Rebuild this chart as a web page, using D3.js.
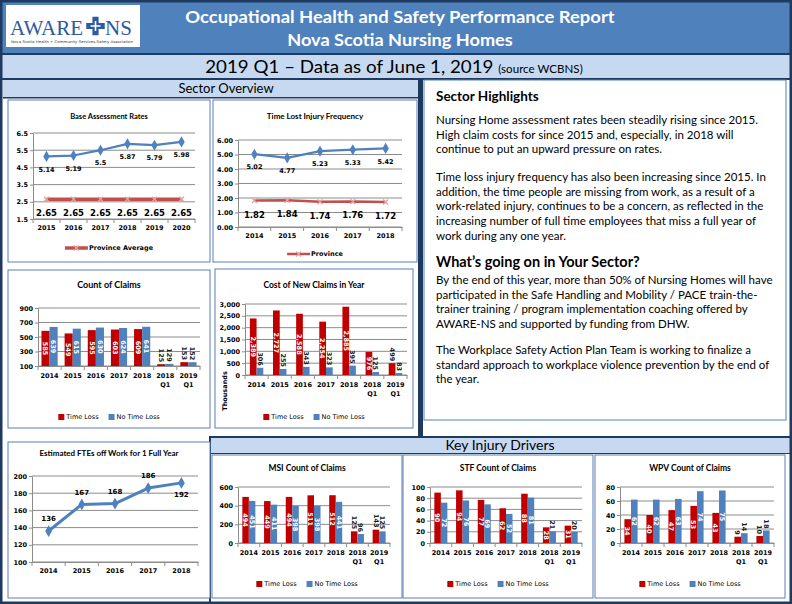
<!DOCTYPE html>
<html>
<head>
<meta charset="utf-8">
<title>Occupational Health and Safety Performance Report</title>
<script src="https://d3js.org/d3.v7.min.js"></script>
<style>
  body { margin: 0; padding: 0; background: #fff; overflow: hidden; }
  svg { display: block; }
  .tick-label { font-family: "DejaVu Sans", sans-serif; font-size: 6.5px; font-weight: bold; fill: #000; }
  .chart-title { font-family: Lato, sans-serif; font-weight: bold; fill: #000; }
  .legend-text { font-family: "DejaVu Sans", sans-serif; font-size: 6.5px; fill: #000; }
  .bar-label { font-family: "DejaVu Sans", sans-serif; font-size: 6.5px; font-weight: bold; }
  .body-text { font-family: Lato, sans-serif; font-size: 12px; fill: #000; }
  .head-text { font-family: Lato, sans-serif; font-weight: bold; fill: #000; }
</style>
</head>
<body>
<svg id="page" width="792" height="604"></svg>
<script>
// ---- data ----
const baseYears = ['2015', '2016', '2017', '2018', '2019', '2020'];
const baseRates = [5.14, 5.19, 5.5, 5.87, 5.79, 5.98];
const baseProvince = [2.65, 2.65, 2.65, 2.65, 2.65, 2.65];
const baseTicks = [1.5, 2.5, 3.5, 4.5, 5.5, 6.5];

const freqYears = ['2014', '2015', '2016', '2017', '2018'];
const freqRates = [5.02, 4.77, 5.23, 5.33, 5.42];
const freqProvince = [1.82, 1.84, 1.74, 1.76, 1.72];
const freqTicks = [0, 1, 2, 3, 4, 5, 6];

const fteYears = ['2014', '2015', '2016', '2017', '2018'];
const fteValues = [136, 167, 168, 186, 192];
const fteTicks = [100, 120, 140, 160, 180, 200];

const periods = ['2014', '2015', '2016', '2017', '2018', '2018 Q1', '2019 Q1'];
const claimsTimeLoss = [585, 549, 595, 603, 609, 125, 153];
const claimsNoTimeLoss = [639, 615, 630, 624, 641, 129, 152];
const claimsTicks = [100, 300, 500, 700, 900];

const costTimeLoss = [2389, 2727, 2588, 2254, 2885, 976, 499];
const costNoTimeLoss = [306, 255, 343, 323, 395, 125, 83];
const costTicks = [0, 500, 1000, 1500, 2000, 2500, 3000];

const msiTimeLoss = [494, 449, 494, 511, 512, 125, 143];
const msiNoTimeLoss = [451, 411, 398, 398, 441, 96, 125];
const msiTicks = [0, 200, 400, 600];

const stfTimeLoss = [90, 94, 77, 62, 88, 28, 31];
const stfNoTimeLoss = [72, 76, 69, 52, 81, 21, 20];
const stfTicks = [0, 20, 40, 60, 80, 100];

const wpvTimeLoss = [34, 40, 47, 53, 43, 9, 10];
const wpvNoTimeLoss = [62, 62, 63, 74, 75, 14, 18];
const wpvTicks = [0, 20, 40, 60, 80];

const DARK = '#1f3a5f';
const BLUE = '#4f81bd';
const LIGHT = '#c6d9f1';
const RED = '#c00000';
const LINE_RED = '#c0504d';
const GRID = '#8c8c8c';

const svg = d3.select('#page');

function box(x, y, w, h, fill, stroke) {
    return svg.append('rect')
        .attr('x', x).attr('y', y).attr('width', w).attr('height', h)
        .attr('fill', fill)
        .attr('stroke', stroke || 'none');
}

// squeeze/stretch a text group horizontally so it spans a given width
function fitWidth(sel, width, originX) {
    const w = sel.node().getBBox().width;
    const k = width / w;
    sel.attr('transform', `translate(${originX},0) scale(${k},1) translate(${-originX},0)`);
}

// ---- page frame ----
box(0, 0, 792, 604, '#fff');
box(0, 0, 792, 53, BLUE);
box(0, 53, 792, 2, DARK);
box(0, 55, 792, 23, LIGHT);
box(0, 78, 792, 2, DARK);
box(3, 80, 415, 17, LIGHT);
box(3, 97, 415, 1.5, DARK);
box(418, 78, 5, 360, DARK);
box(209, 436, 583, 2, DARK);
box(209, 436, 2, 168, DARK);
box(211, 438, 579, 15, LIGHT);
box(211, 453, 579, 1, DARK);
svg.append('rect').attr('x', 1).attr('y', 1).attr('width', 790).attr('height', 602)
    .attr('fill', 'none').attr('stroke', DARK).attr('stroke-width', 3);

// ---- logo ----
box(6, 5, 134, 42, '#fff');
svg.append('text').attr('x', 10).attr('y', 35)
    .style('font-family', '"Liberation Serif", serif').style('font-size', '21px')
    .attr('fill', '#2d5aa0').text('AWARE');
const cross = svg.append('g').attr('transform', 'translate(95.5,26)');
cross.append('path').attr('d', d3.symbol(d3.symbolCross, 190)()).attr('fill', '#2d5aa0');
cross.append('path').attr('d', 'M-5,0H5M0,-5V5').attr('stroke', '#fff').attr('stroke-width', 1.6);
svg.append('text').attr('x', 105).attr('y', 35)
    .style('font-family', '"Liberation Serif", serif').style('font-size', '21px')
    .attr('fill', '#2d5aa0').text('NS');
svg.append('text').attr('x', 11).attr('y', 43)
    .attr('textLength', 122).attr('lengthAdjust', 'spacingAndGlyphs')
    .style('font-family', '"DejaVu Sans", sans-serif').style('font-size', '3.6px')
    .attr('fill', '#333').text('Nova Scotia Health + Community Services Safety Association');

// ---- titles ----
const t1 = svg.append('text').attr('x', 400).attr('y', 23).attr('text-anchor', 'middle')
    .attr('class', 'head-text').style('font-size', '17.5px').attr('fill', '#fff')
    .text('Occupational Health and Safety Performance Report');
t1.style('fill', '#fff');
fitWidth(t1, 430, 400);
const t2 = svg.append('text').attr('x', 400).attr('y', 46).attr('text-anchor', 'middle')
    .attr('class', 'head-text').style('font-size', '17.5px').style('fill', '#fff')
    .text('Nova Scotia Nursing Homes');
fitWidth(t2, 226, 400);

const sub = svg.append('text').attr('x', 394).attr('y', 73).attr('text-anchor', 'middle')
    .style('font-family', 'Lato, sans-serif').style('fill', '#000');
sub.append('tspan').style('font-size', '17px').text('2019 Q1 \u2013 Data as of June 1, 2019 ');
sub.append('tspan').style('font-size', '10.5px').text('(source WCBNS)');
fitWidth(sub, 378, 394);

svg.append('text').attr('x', 226).attr('y', 93).attr('text-anchor', 'middle')
    .style('font-family', 'Lato, sans-serif').style('font-size', '13px').text('Sector Overview');
svg.append('text').attr('x', 500).attr('y', 450).attr('text-anchor', 'middle')
    .style('font-family', 'Lato, sans-serif').style('font-size', '14px').text('Key Injury Drivers');

// ---- sector highlights ----
box(424, 80, 362, 340, '#fff', BLUE);
const hl = svg.append('g');
const hlBlocks = [
    { head: 'Sector Highlights', size: 13.5, y: 101 },
    { lines: ['Nursing Home assessment rates been steadily rising since 2015.',
              'High claim costs for since 2015 and, especially, in 2018 will',
              'continue to put an upward pressure on rates.'], y: 124 },
    { lines: ['Time loss injury frequency has also been increasing since 2015. In',
              'addition, the time people are missing from work, as a result of a',
              'work-related injury, continues to be a concern, as reflected in the',
              'increasing number of full time employees that miss a full year of',
              'work during any one year.'], y: 181 },
    { head: 'What\u2019s going on in Your Sector?', size: 14.5, y: 267 },
    { lines: ['By the end of this year, more than 50% of Nursing Homes will have',
              'participated in the Safe Handling and Mobility / PACE train-the-',
              'trainer training / program implementation coaching offered by',
              'AWARE-NS and supported by funding from DHW.'], y: 284 },
    { lines: ['The Workplace Safety Action Plan Team is working to finalize a',
              'standard approach to workplace violence prevention by the end of',
              'the year.'], y: 354 }
];
const bodyLines = [];
hlBlocks.forEach(b => {
    if (b.head) {
        hl.append('text').attr('x', 436).attr('y', b.y).attr('class', 'head-text')
            .style('font-size', b.size + 'px').text(b.head);
    } else {
        b.lines.forEach((ln, i) => {
            bodyLines.push(hl.append('text').attr('x', 436).attr('y', b.y + i * 14.7)
                .attr('class', 'body-text').text(ln));
        });
    }
});
const widest = d3.max(bodyLines, t => t.node().getComputedTextLength());
bodyLines.forEach(t => fitWidth(t, t.node().getComputedTextLength() * 337 / widest, 436));

// ---- chart helpers ----
function panel(b) {
    box(b.x, b.y, b.w, b.h, '#fff', '#5a7fb5');
}

function chartTitle(b, text, y, size) {
    svg.append('text').attr('x', b.x + b.w / 2).attr('y', y).attr('text-anchor', 'middle')
        .attr('class', 'chart-title').style('font-size', size + 'px').text(text);
}

function grid(g, y, ticks, x0, x1) {
    g.selectAll(null).data(ticks).join('line')
        .attr('x1', x0).attr('x2', x1)
        .attr('y1', d => y(d)).attr('y2', d => y(d))
        .attr('stroke', GRID).attr('stroke-width', 1);
}

function valueAxis(g, y, x0, ticks, fmt) {
    const ax = g.append('g').attr('transform', `translate(${x0},0)`)
        .call(d3.axisLeft(y).tickValues(ticks).tickFormat(fmt).tickSize(3).tickSizeOuter(0).tickPadding(2));
    ax.select('.domain').attr('stroke', GRID);
    ax.selectAll('.tick line').attr('stroke', GRID);
    ax.selectAll('text').attr('class', 'tick-label');
}

function categoryAxis(g, x, yPos, pad) {
    const ax = g.append('g').attr('transform', `translate(0,${yPos})`)
        .call(d3.axisBottom(x).tickSize(0).tickSizeOuter(0).tickPadding(pad));
    ax.select('.domain').attr('stroke', GRID);
    ax.selectAll('text').attr('class', 'tick-label').attr('dy', null).each(function (d) {
        const el = d3.select(this);
        el.text(null);
        d.split(' ').forEach((p, i) => {
            el.append('tspan').attr('x', 0).attr('dy', i ? '1.45em' : '0.71em').text(p);
        });
    });
    const bounds = x.domain().map(c => x(c)).concat([x.range()[1]]);
    g.selectAll(null).data(bounds).join('line')
        .attr('x1', d => d).attr('x2', d => d)
        .attr('y1', yPos).attr('y2', yPos + 4)
        .attr('stroke', GRID);
}

function marker(sel, kind, color, size) {
    if (kind === 'x') {
        const s = size;
        sel.attr('d', `M${-s},${-s}L${s},${s}M${-s},${s}L${s},${-s}`)
            .attr('fill', 'none').attr('stroke', '#e8a0a0').attr('stroke-width', 1.3);
    } else {
        sel.attr('d', d3.symbol(d3.symbolDiamond, size)()).attr('fill', color);
    }
}

function lineChart(cfg) {
    panel(cfg.box);
    chartTitle(cfg.box, cfg.title, cfg.titleY, cfg.titleSize);
    const g = svg.append('g');
    const p = cfg.plot;
    const x = d3.scaleBand().domain(cfg.cats).range([p.x0, p.x1]);
    const y = d3.scaleLinear().domain(d3.extent(cfg.ticks)).range([p.y1, p.y0]);
    grid(g, y, cfg.ticks, p.x0, p.x1);
    valueAxis(g, y, p.x0, cfg.ticks, cfg.fmt);
    categoryAxis(g, x, p.y1, 6);
    const cx = c => x(c) + x.bandwidth() / 2;

    cfg.series.forEach(s => {
        const pts = cfg.cats.map((c, i) => ({ c, v: s.values[i], i }));
        g.append('path').datum(pts)
            .attr('d', d3.line().x(d => cx(d.c)).y(d => y(d.v)))
            .attr('fill', 'none').attr('stroke', s.color)
            .attr('stroke-width', s.width).attr('stroke-linejoin', 'round');
        g.selectAll(null).data(pts).join('path')
            .attr('transform', d => `translate(${cx(d.c)},${y(d.v)})`)
            .call(marker, s.marker, s.color, s.markerSize);
        g.selectAll(null).data(pts).join('text')
            .attr('x', d => cx(d.c))
            .attr('y', d => y(d.v) + (s.place && s.place[d.i] === 'above' ? -s.gap : s.gap))
            .attr('dy', '0.35em')
            .attr('text-anchor', 'middle')
            .style('font-family', '"DejaVu Sans", sans-serif')
            .style('font-size', s.labelSize + 'px').style('font-weight', 'bold')
            .text(d => s.fmt ? s.fmt(d.v) : d.v);
    });

    if (cfg.legend) {
        const s = cfg.series[cfg.legend.series];
        const lg = g.append('g');
        const txt = lg.append('text').attr('class', 'legend-text').style('font-weight', 'bold')
            .attr('dy', '0.35em').text(cfg.legend.label);
        const tw = txt.node().getComputedTextLength();
        const total = 24 + tw;
        const lx = cfg.box.x + (cfg.box.w - total) / 2;
        lg.attr('transform', `translate(${lx},${cfg.legend.y})`);
        txt.attr('x', 24);
        lg.append('line').attr('x1', 0).attr('x2', 23).attr('stroke', s.color).attr('stroke-width', s.width);
        lg.append('path').attr('transform', 'translate(11.5,0)').call(marker, s.marker, s.color, s.markerSize);
    }
    return g;
}

function barChart(cfg) {
    panel(cfg.box);
    chartTitle(cfg.box, cfg.title, cfg.titleY, cfg.titleSize);
    const g = svg.append('g');
    const p = cfg.plot;
    const x = d3.scaleBand().domain(cfg.cats).range([p.x0, p.x1]);
    const y = d3.scaleLinear().domain(d3.extent(cfg.ticks)).range([p.y1, p.y0]);
    grid(g, y, cfg.ticks, p.x0, p.x1);
    valueAxis(g, y, p.x0, cfg.ticks, cfg.fmt);

    const pairW = x.bandwidth() * cfg.pairFrac;
    const inner = d3.scaleBand().domain(['tl', 'ntl']).range([0, pairW]);
    const off = (x.bandwidth() - pairW) / 2;
    const rows = cfg.cats.flatMap((c, i) => [
        { c, k: 'tl', v: cfg.tl[i] },
        { c, k: 'ntl', v: cfg.ntl[i] }
    ]);
    const base = y.domain()[0];
    const bx = d => x(d.c) + off + inner(d.k);

    g.selectAll(null).data(rows).join('rect')
        .attr('x', bx)
        .attr('y', d => y(d.v))
        .attr('width', inner.bandwidth())
        .attr('height', d => y(base) - y(d.v))
        .attr('fill', d => d.k === 'tl' ? RED : BLUE);

    categoryAxis(g, x, p.y1, 7);

    g.selectAll(null).data(rows).join('text')
        .attr('class', 'bar-label')
        .attr('dy', '0.35em')
        .text(d => d3.format(',')(d.v))
        .each(function (d) {
            const el = d3.select(this);
            const len = this.getComputedTextLength();
            const h = y(base) - y(d.v);
            const mx = bx(d) + inner.bandwidth() / 2;
            if (h > len + 4) {
                el.attr('text-anchor', 'middle').style('fill', '#fff')
                    .attr('transform', `translate(${mx},${y(d.v) + h / 2}) rotate(90)`);
            } else {
                el.attr('text-anchor', 'end').style('fill', '#1a1a1a')
                    .attr('transform', `translate(${mx},${y(d.v) - 2}) rotate(90)`);
            }
        });

    // legend
    const items = [{ label: 'Time Loss', color: RED }, { label: 'No Time Loss', color: BLUE }];
    const lg = g.append('g');
    let cursor = 0;
    items.forEach((it, i) => {
        lg.append('rect').attr('x', cursor).attr('y', -3).attr('width', 6).attr('height', 6).attr('fill', it.color);
        const t = lg.append('text').attr('class', 'legend-text').attr('x', cursor + 8)
            .attr('dy', '0.35em').text(it.label);
        cursor += 8 + t.node().getComputedTextLength() + (i === 0 ? 10 : 0);
    });
    lg.attr('transform', `translate(${cfg.box.x + (cfg.box.w - cursor) / 2},${cfg.legendY})`);

    if (cfg.yLabel) {
        g.append('text').attr('class', 'tick-label').attr('text-anchor', 'middle')
            .attr('transform', `translate(${cfg.yLabel.x},${cfg.yLabel.y}) rotate(-90)`)
            .text(cfg.yLabel.text);
    }
    return g;
}

// ---- sector overview charts ----
lineChart({
    box: { x: 8, y: 100, w: 202, h: 162 },
    title: 'Base Assessment Rates', titleY: 119, titleSize: 7.5,
    plot: { x0: 33, x1: 195, y0: 133, y1: 219 },
    cats: baseYears, ticks: baseTicks, fmt: d3.format('.1f'),
    series: [
        { values: baseRates, color: BLUE, width: 2.2, marker: 'diamond', markerSize: 36, labelSize: 6.5, gap: 13 },
        { values: baseProvince, color: LINE_RED, width: 3.5, marker: 'x', markerSize: 2.5, labelSize: 8.5, gap: 14 }
    ],
    legend: { series: 1, label: 'Province Average', y: 248 }
});

lineChart({
    box: { x: 213, y: 100, w: 204, h: 162 },
    title: 'Time Lost Injury Frequency', titleY: 119, titleSize: 8,
    plot: { x0: 238, x1: 402, y0: 140, y1: 227 },
    cats: freqYears, ticks: freqTicks, fmt: d3.format('.2f'),
    series: [
        { values: freqRates, color: BLUE, width: 2.2, marker: 'diamond', markerSize: 36, labelSize: 6.5, gap: 13, fmt: d3.format('.2f') },
        { values: freqProvince, color: LINE_RED, width: 2.5, marker: 'x', markerSize: 2.5, labelSize: 8.5, gap: 14, fmt: d3.format('.2f') }
    ],
    legend: { series: 1, label: 'Province', y: 254 }
});

barChart({
    box: { x: 8, y: 270, w: 202, h: 158 },
    title: 'Count of Claims', titleY: 288, titleSize: 9,
    plot: { x0: 38, x1: 200, y0: 308, y1: 366 },
    cats: periods, ticks: claimsTicks, fmt: d3.format('d'),
    tl: claimsTimeLoss, ntl: claimsNoTimeLoss, pairFrac: 0.7,
    legendY: 417
});

barChart({
    box: { x: 215, y: 269, w: 198, h: 159 },
    title: 'Cost of New Claims in Year', titleY: 288, titleSize: 8.5,
    plot: { x0: 245, x1: 407, y0: 304, y1: 375 },
    cats: periods, ticks: costTicks, fmt: d3.format(','),
    tl: costTimeLoss, ntl: costNoTimeLoss, pairFrac: 0.58,
    legendY: 417,
    yLabel: { text: 'Thousands', x: 227, y: 391 }
});

lineChart({
    box: { x: 8, y: 442, w: 202, h: 156 },
    title: 'Estimated FTEs off Work for 1 Full Year', titleY: 456, titleSize: 8,
    plot: { x0: 32, x1: 198, y0: 476, y1: 562 },
    cats: fteYears, ticks: fteTicks, fmt: d3.format('d'),
    series: [
        { values: fteValues, color: BLUE, width: 3, marker: 'diamond', markerSize: 40, labelSize: 7, gap: 12,
          place: ['above', 'above', 'above', 'above', 'below'] }
    ]
});

// ---- key injury drivers ----
barChart({
    box: { x: 212, y: 455, w: 190, h: 143 },
    title: 'MSI Count of Claims', titleY: 471, titleSize: 8.5,
    plot: { x0: 238, x1: 390, y0: 487, y1: 543 },
    cats: periods, ticks: msiTicks, fmt: d3.format('d'),
    tl: msiTimeLoss, ntl: msiNoTimeLoss, pairFrac: 0.6,
    legendY: 584
});

barChart({
    box: { x: 403, y: 455, w: 190, h: 143 },
    title: 'STF Count of Claims', titleY: 471, titleSize: 8.5,
    plot: { x0: 430, x1: 582, y0: 487, y1: 543 },
    cats: periods, ticks: stfTicks, fmt: d3.format('d'),
    tl: stfTimeLoss, ntl: stfNoTimeLoss, pairFrac: 0.6,
    legendY: 584
});

barChart({
    box: { x: 595, y: 455, w: 190, h: 143 },
    title: 'WPV Count of Claims', titleY: 471, titleSize: 8.5,
    plot: { x0: 620, x1: 774, y0: 487, y1: 543 },
    cats: periods, ticks: wpvTicks, fmt: d3.format('d'),
    tl: wpvTimeLoss, ntl: wpvNoTimeLoss, pairFrac: 0.6,
    legendY: 584
});
</script>
</body>
</html>
